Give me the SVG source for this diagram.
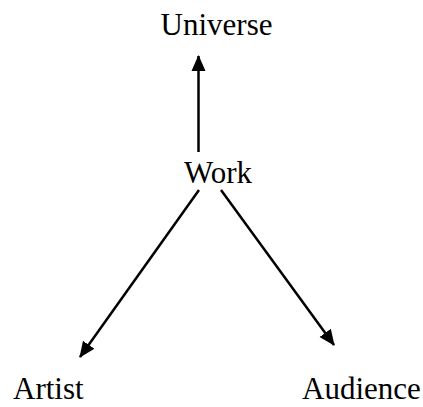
<svg xmlns="http://www.w3.org/2000/svg" width="423" height="407" viewBox="0 0 423 407">
<style>
text{font-family:"Liberation Serif","Times New Roman",serif;font-size:31px;fill:#000}
.c{stroke:#000;stroke-width:2.5;fill:none}
</style>
<defs>
<marker id="ah" markerUnits="userSpaceOnUse" markerWidth="16" markerHeight="16" viewBox="0 0 16 16" refX="15" refY="8" orient="auto">
<path d="M0,1 L16,8 L0,15 Z" fill="#000"/>
</marker>
</defs>
<rect width="423" height="407" fill="#fff"/>
<g id="connectors">
<line class="c" x1="198.5" y1="152" x2="198.5" y2="56" marker-end="url(#ah)"/>
<line class="c" x1="199" y1="190" x2="80" y2="357" marker-end="url(#ah)"/>
<line class="c" x1="221" y1="190" x2="334" y2="345" marker-end="url(#ah)"/>
</g>
<g id="universe"><text x="216.5" y="35" text-anchor="middle">Universe</text></g>
<g id="work"><text x="218" y="183" text-anchor="middle">Work</text></g>
<g id="artist"><text x="13" y="399">Artist</text></g>
<g id="audience"><text x="302" y="399">Audience</text></g>
</svg>
